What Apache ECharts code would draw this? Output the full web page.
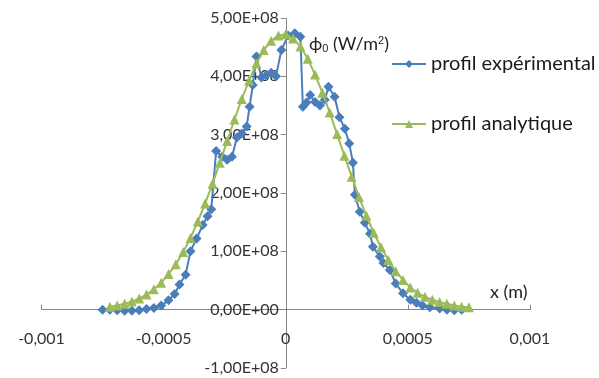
<!DOCTYPE html>
<html>
<head>
<meta charset="utf-8">
<script src="https://cdn.jsdelivr.net/npm/echarts@6/dist/echarts.min.js"></script>
<style>html,body{margin:0;padding:0;background:#fff;}#c{width:599px;height:378px;}</style>
</head>
<body>
<div id="c"></div>
<script>
// Experimental profile (x in m, phi0 in W/m2)
var expX = [-0.00075,-0.00072,-0.00069,-0.00066,-0.00063,-0.00060,-0.00057,-0.00054,-0.00051,-0.00048,
  -0.000455,-0.000435,-0.00041,-0.00039,-0.000365,-0.00034,-0.00032,-0.000305,-0.000285,-0.00026,
  -0.00024,-0.00022,-0.00020,-0.00018,-0.00016,-0.000148,-0.000135,-0.00012,-0.00010,-0.00008,
  -0.00006,-0.00004,-0.000018,0.00001,0.000037,0.00006,0.00007,0.000085,0.0001,0.00012,
  0.00014,0.00016,0.000175,0.0002,0.00022,0.000242,0.00026,0.000275,0.000283,0.000303,
  0.000324,0.000345,0.000357,0.000385,0.0004,0.000426,0.00045,0.00048,0.00051,0.000535,
  0.00056,0.00059,0.00063,0.00066,0.00069,0.00072];
var expY = [0.00e8,0.00e8,-0.01e8,-0.02e8,-0.02e8,-0.01e8,0.01e8,0.03e8,0.07e8,0.16e8,
  0.27e8,0.43e8,0.60e8,1.00e8,1.22e8,1.45e8,1.60e8,1.72e8,2.72e8,2.62e8,
  2.57e8,2.62e8,2.95e8,3.02e8,3.14e8,3.48e8,3.85e8,4.34e8,3.98e8,4.02e8,
  4.06e8,4.00e8,4.45e8,4.70e8,4.74e8,4.68e8,3.48e8,3.55e8,3.68e8,3.56e8,
  3.50e8,3.60e8,3.82e8,3.65e8,3.30e8,3.10e8,2.85e8,2.52e8,1.97e8,1.68e8,
  1.49e8,1.30e8,1.08e8,0.91e8,0.80e8,0.68e8,0.45e8,0.28e8,0.17e8,0.12e8,
  0.07e8,0.04e8,0.02e8,0.00e8,-0.01e8,0.00e8];
// Analytical profile
var anaX = [-0.00072,-0.00069,-0.00066,-0.00063,-0.00060,-0.00057,-0.00054,-0.00051,-0.00048,-0.00045,
  -0.00042,-0.00039,-0.00036,-0.00033,-0.00030,-0.00027,-0.00024,-0.00021,-0.00018,-0.00015,
  -0.00012,-0.00009,-0.00006,-0.00003,0.0,0.00003,0.00006,0.00009,0.00012,0.00015,
  0.00018,0.00021,0.00024,0.00027,0.00030,0.00033,0.00036,0.00039,0.00042,0.00045,
  0.00048,0.00051,0.00054,0.00057,0.00060,0.00063,0.00066,0.00069,0.00072,0.00075];
var anaY = [0.05e8,0.07e8,0.10e8,0.14e8,0.19e8,0.26e8,0.35e8,0.46e8,0.61e8,0.78e8,
  0.99e8,1.23e8,1.51e8,1.82e8,2.16e8,2.52e8,2.89e8,3.26e8,3.61e8,3.93e8,
  4.22e8,4.45e8,4.61e8,4.70e8,4.72e8,4.65e8,4.51e8,4.30e8,4.03e8,3.72e8,
  3.38e8,3.01e8,2.64e8,2.28e8,1.93e8,1.61e8,1.32e8,1.07e8,0.85e8,0.66e8,
  0.51e8,0.38e8,0.29e8,0.22e8,0.17e8,0.13e8,0.10e8,0.07e8,0.05e8,0.04e8];
var xTickMin = -0.001, xTickMax = 0.001, xTickStep = 0.0005;
var yTickMin = -1e8, yTickMax = 5e8, yTickStep = 1e8;
var seriesNames = ['profil expérimental', 'profil analytique'];

function pairs(xs, ys) { return xs.map(function (x, i) { return [x, ys[i]]; }); }
function fmtX(v) { if (Math.abs(v) < 1e-12) return '0'; return String(+v.toPrecision(6)).replace('.', ','); }
function fmtY(v) {
  var s = v.toExponential(2); var p = s.split('e');
  var m = p[0].replace('.', ','); var e = parseInt(p[1], 10);
  var es = (e < 0 ? '-' : '+') + (Math.abs(e) < 10 ? '0' : '') + Math.abs(e);
  return m + 'E' + es;
}
var FONT = 'Lato';
var W = 599, H = 378;
var G = { left: 41.5, right: 69, top: 18, bottom: 10 };
// axes cross at zero: shift the axes from the grid edges to the zero lines
var gw = W - G.left - G.right, gh = H - G.top - G.bottom;
var yAxisOffset = -gw * (0 - xTickMin) / (xTickMax - xTickMin);
var xAxisOffset = -gh * (0 - yTickMin) / (yTickMax - yTickMin);

var chart = echarts.init(document.getElementById('c'), null, { renderer: 'canvas' });
chart.setOption({
  animation: false,
  backgroundColor: '#ffffff',
  textStyle: { fontFamily: FONT },
  grid: { left: G.left, right: G.right, top: G.top, bottom: G.bottom, containLabel: false, outerBoundsMode: 'none' },
  xAxis: {
    type: 'value', min: xTickMin, max: xTickMax, interval: xTickStep, position: 'bottom', offset: xAxisOffset,
    axisLine: { onZero: false, lineStyle: { color: '#868686', width: 1 } },
    axisTick: { inside: true, length: 5, lineStyle: { color: '#868686' } },
    splitLine: { show: false },
    axisLabel: { formatter: fmtX, margin: 21, color: '#333333', fontSize: 16, fontFamily: FONT }
  },
  yAxis: {
    type: 'value', min: yTickMin, max: yTickMax, interval: yTickStep, position: 'left', offset: yAxisOffset,
    axisLine: { onZero: false, lineStyle: { color: '#868686', width: 1 } },
    axisTick: { length: 5, lineStyle: { color: '#868686' } },
    splitLine: { show: false },
    axisLabel: { formatter: fmtY, margin: 7, color: '#333333', fontSize: 16, fontFamily: FONT }
  },
  legend: {
    orient: 'vertical', left: 386, top: 49, itemGap: 40, itemWidth: 34, itemHeight: 10,
    textStyle: { fontSize: 20, color: '#1a1a1a', fontFamily: FONT },
    data: seriesNames
  },
  graphic: [
    { type: 'text', left: 309, top: 35, style: { text: 'ϕ{s|0} (W/m{p|2})', fontSize: 18, fontFamily: FONT, fill: '#222',
      rich: { s: { fontSize: 11, padding: [9, 0, 0, 0] }, p: { fontSize: 11, padding: [0, 0, 7, 0] } } } },
    { type: 'text', left: 490, top: 283, style: { text: 'x (m)', fontSize: 18, fontFamily: FONT, fill: '#222' } }
  ],
  series: [
    { name: seriesNames[0], type: 'line', data: pairs(expX, expY), symbol: 'diamond', symbolSize: 10,
      lineStyle: { color: '#4A7EBB', width: 2 }, itemStyle: { color: '#4A7EBB' }, z: 2 },
    { name: seriesNames[1], type: 'line', data: pairs(anaX, anaY), symbol: 'triangle', symbolSize: 10,
      lineStyle: { color: '#9BBB59', width: 2 }, itemStyle: { color: '#9BBB59' }, z: 3 }
  ]
});
</script>
</body>
</html>
